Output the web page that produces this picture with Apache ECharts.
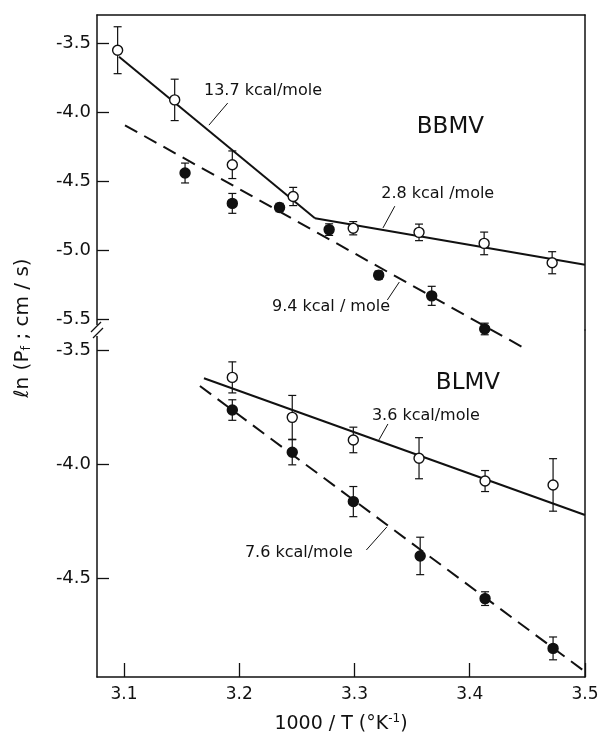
<!DOCTYPE html>
<html>
<head>
<meta charset="utf-8">
<script src="https://cdn.jsdelivr.net/npm/echarts@6/dist/echarts.min.js"></script>
<style>
  html, body { margin: 0; padding: 0; background: #fff; }
  #chart { width: 599px; height: 732px; }
</style>
</head>
<body>
<div id="chart"></div>
<script>
// ---- data: 1000/T (K^-1) and ln(Pf) with error half-widths ----

// BBMV, open circles
const bbmvOpenX   = [3.0945, 3.144, 3.194, 3.2468, 3.2989, 3.356, 3.4125, 3.4715];
const bbmvOpenY   = [-3.55, -3.91, -4.38, -4.61, -4.84, -4.87, -4.95, -5.09];
const bbmvOpenErr = [0.17, 0.15, 0.10, 0.066, 0.048, 0.06, 0.082, 0.08];

// BBMV, filled circles
const bbmvFillX   = [3.153, 3.194, 3.235, 3.278, 3.321, 3.367, 3.413];
const bbmvFillY   = [-4.44, -4.66, -4.69, -4.85, -5.18, -5.33, -5.57];
const bbmvFillErr = [0.072, 0.072, 0.03, 0.042, 0.03, 0.069, 0.042];

// BLMV, open circles
const blmvOpenX   = [3.194, 3.246, 3.299, 3.356, 3.4133, 3.4723];
const blmvOpenY   = [-3.62, -3.795, -3.894, -3.974, -4.074, -4.091];
const blmvOpenErr = [0.068, 0.096, 0.056, 0.09, 0.046, 0.115];

// BLMV, filled circles
const blmvFillX   = [3.194, 3.246, 3.299, 3.357, 3.4133, 3.4723];
const blmvFillY   = [-3.763, -3.948, -4.164, -4.402, -4.589, -4.807];
const blmvFillErr = [0.045, 0.055, 0.066, 0.082, 0.03, 0.05];

// Arrhenius fit segments [x, y]
const fitBbmvHigh  = [[3.0957, -3.597], [3.2657, -4.768]];   // 13.7 kcal/mole
const fitBbmvLow   = [[3.2657, -4.768], [3.5, -5.105]];      // 2.8 kcal/mole
const fitBbmvFill  = [[3.1009, -4.094], [3.4501, -5.722]];   // 9.4 kcal/mole
const fitBlmvOpen  = [[3.1694, -3.624], [3.5, -4.223]];      // 3.6 kcal/mole
const fitBlmvFill  = [[3.1659, -3.658], [3.5, -4.909]];      // 7.6 kcal/mole

// axis ticks
const xTicks      = [3.1, 3.2, 3.3, 3.4, 3.5];
const yTicksUpper = [-5.5, -5.0, -4.5, -4.0, -3.5];
const yTicksLower = [-4.5, -4.0, -3.5];

// activation energy labels (text, anchor, leader line)
const upperNotes = [
  { text: '13.7 kcal/mole',  at: [3.1694, -3.846], leader: [[3.1737, -4.093], [3.190, -3.933]] },
  { text: '2.8 kcal /mole',  at: [3.3232, -4.594], leader: [[3.3247, -4.838], [3.3350, -4.680]] },
  { text: '9.4 kcal / mole', at: [3.2284, -5.409], leader: [[3.3285, -5.360], [3.3389, -5.230]] },
  { text: 'BBMV', at: [3.3541, -4.104], big: true }
];
const lowerNotes = [
  { text: '3.6 kcal/mole', at: [3.3151, -3.787], leader: [[3.3212, -3.894], [3.329, -3.824]] },
  { text: '7.6 kcal/mole', at: [3.2049, -4.388], leader: [[3.3103, -4.376], [3.3281, -4.275]] },
  { text: 'BLMV', at: [3.3706, -3.6445], big: true }
];

const FONT = 'DejaVu Sans';
const INK = '#111';

const zip = (xs, ys, es) => xs.map((x, i) => es ? [x, ys[i], es[i]] : [x, ys[i]]);

function errorBarItem(params, api) {
  const x = api.value(0), y = api.value(1), e = api.value(2);
  const top = api.coord([x, y + e]);
  const bot = api.coord([x, y - e]);
  const cap = 4;
  const style = { stroke: INK, lineWidth: 1.2 };
  return {
    type: 'group',
    children: [
      { type: 'line', shape: { x1: top[0], y1: top[1], x2: bot[0], y2: bot[1] }, style },
      { type: 'line', shape: { x1: top[0] - cap, y1: top[1], x2: top[0] + cap, y2: top[1] }, style },
      { type: 'line', shape: { x1: bot[0] - cap, y1: bot[1], x2: bot[0] + cap, y2: bot[1] }, style }
    ]
  };
}

function noteRenderer(list) {
  return function (params, api) {
    const n = list[params.dataIndex];
    const p = api.coord(n.at);
    const children = [{
      type: 'text', x: p[0], y: p[1],
      style: {
        text: n.text, fill: INK, fontFamily: FONT,
        fontSize: n.big ? 23 : 16, align: 'left', verticalAlign: 'middle'
      }
    }];
    if (n.leader) {
      const s = api.coord(n.leader[0]), e = api.coord(n.leader[1]);
      children.push({ type: 'line', shape: { x1: s[0], y1: s[1], x2: e[0], y2: e[1] },
                      style: { stroke: INK, lineWidth: 1 } });
    }
    return { type: 'group', children };
  };
}

function errSeries(xi, yi, data) {
  return { type: 'custom', xAxisIndex: xi, yAxisIndex: yi, renderItem: errorBarItem,
           data, z: 2, silent: true, clip: false };
}
function fitSeries(xi, yi, data, dashed) {
  return { type: 'line', xAxisIndex: xi, yAxisIndex: yi, data, symbol: 'none', clip: false,
           lineStyle: { color: INK, width: 2, type: dashed ? [14, 8] : 'solid' }, z: 1, silent: true };
}
function dotSeries(xi, yi, data, filled) {
  return { type: 'scatter', xAxisIndex: xi, yAxisIndex: yi, data, symbol: 'circle',
           symbolSize: 10, z: 3, silent: true,
           itemStyle: { color: filled ? INK : '#fff', borderColor: INK, borderWidth: 1.4, opacity: 1 } };
}

const X_MIN = 3.0766, X_MAX = 3.5;
const frameLine = { show: true, lineStyle: { color: INK, width: 1.5 } };
const tickLabel = (size) => ({ color: INK, fontFamily: FONT, fontSize: size });

const option = {
  animation: false,
  backgroundColor: '#fff',
  grid: [
    { left: 97, right: 14, top: 15, height: 315, outerBoundsMode: 'none', containLabel: false },
    { left: 97, right: 14, top: 330, height: 347, outerBoundsMode: 'none', containLabel: false }
  ],
  xAxis: [
    { gridIndex: 0, type: 'value', min: X_MIN, max: X_MAX, position: 'top',
      axisLine: frameLine, axisTick: { show: false }, axisLabel: { show: false }, splitLine: { show: false } },
    { gridIndex: 1, type: 'value', min: X_MIN, max: X_MAX, position: 'bottom',
      axisLine: frameLine,
      axisTick: { inside: true, length: 14, customValues: xTicks, lineStyle: { color: INK, width: 1.3 } },
      axisLabel: Object.assign(tickLabel(17), { customValues: xTicks, margin: 9,
        formatter: v => v.toFixed(1) }),
      splitLine: { show: false },
      name: '1000 / T (°K{sup|-1})', nameLocation: 'middle', nameGap: 36,
      nameTextStyle: { color: INK, fontFamily: FONT, fontSize: 19,
        rich: { sup: { fontFamily: FONT, fontSize: 12, color: INK, verticalAlign: 'top', padding: [0, 0, 10, 0] } } } }
  ],
  yAxis: [
    { gridIndex: 0, type: 'value', min: -5.5775, max: -3.2949,
      axisLine: frameLine,
      axisTick: { inside: true, length: 12, customValues: yTicksUpper, lineStyle: { color: INK, width: 1.3 } },
      axisLabel: Object.assign(tickLabel(18), { customValues: yTicksUpper, margin: 6,
        formatter: v => v.toFixed(1) }),
      splitLine: { show: false } },
    { gridIndex: 0, type: 'value', min: -5.5775, max: -3.2949, position: 'right',
      axisLine: frameLine, axisTick: { show: false }, axisLabel: { show: false }, splitLine: { show: false } },
    { gridIndex: 1, type: 'value', min: -4.9323, max: -3.4124,
      axisLine: frameLine,
      axisTick: { inside: true, length: 12, customValues: yTicksLower, lineStyle: { color: INK, width: 1.3 } },
      axisLabel: Object.assign(tickLabel(18), { customValues: yTicksLower, margin: 6,
        formatter: v => v.toFixed(1) }),
      splitLine: { show: false } },
    { gridIndex: 1, type: 'value', min: -4.9323, max: -3.4124, position: 'right',
      axisLine: frameLine, axisTick: { show: false }, axisLabel: { show: false }, splitLine: { show: false } }
  ],
  graphic: [
    // axis break on the left frame
    { type: 'rect', shape: { x: 92, y: 325, width: 10, height: 11 }, style: { fill: '#fff' }, z: 100 },
    { type: 'line', shape: { x1: 91, y1: 332, x2: 101, y2: 322 }, style: { stroke: INK, lineWidth: 1.3 }, z: 101 },
    { type: 'line', shape: { x1: 93, y1: 338, x2: 103, y2: 328 }, style: { stroke: INK, lineWidth: 1.3 }, z: 101 },
    // y-axis title
    { type: 'text', x: 23, y: 328, rotation: Math.PI / 2, z: 101,
      style: { text: 'ℓn (P{sub|f} ; cm / s)', fill: INK, fontFamily: FONT, fontSize: 20,
               align: 'center', verticalAlign: 'middle',
               rich: { sub: { fontFamily: FONT, fontSize: 13, fill: INK, verticalAlign: 'bottom', padding: [8, 0, 0, 0] } } } }
  ],
  series: [
    fitSeries(0, 0, fitBbmvHigh, false),
    fitSeries(0, 0, fitBbmvLow, false),
    fitSeries(0, 0, fitBbmvFill, true),
    fitSeries(1, 2, fitBlmvOpen, false),
    fitSeries(1, 2, fitBlmvFill, true),
    errSeries(0, 0, zip(bbmvOpenX, bbmvOpenY, bbmvOpenErr)),
    errSeries(0, 0, zip(bbmvFillX, bbmvFillY, bbmvFillErr)),
    errSeries(1, 2, zip(blmvOpenX, blmvOpenY, blmvOpenErr)),
    errSeries(1, 2, zip(blmvFillX, blmvFillY, blmvFillErr)),
    dotSeries(0, 0, zip(bbmvOpenX, bbmvOpenY), false),
    dotSeries(0, 0, zip(bbmvFillX, bbmvFillY), true),
    dotSeries(1, 2, zip(blmvOpenX, blmvOpenY), false),
    dotSeries(1, 2, zip(blmvFillX, blmvFillY), true),
    { type: 'custom', xAxisIndex: 0, yAxisIndex: 0, renderItem: noteRenderer(upperNotes),
      data: upperNotes.map(n => n.at), z: 4, silent: true, clip: false },
    { type: 'custom', xAxisIndex: 1, yAxisIndex: 2, renderItem: noteRenderer(lowerNotes),
      data: lowerNotes.map(n => n.at), z: 4, silent: true, clip: false }
  ]
};

const chart = echarts.init(document.getElementById('chart'), null, { renderer: 'canvas' });
chart.setOption(option);
</script>
</body>
</html>
